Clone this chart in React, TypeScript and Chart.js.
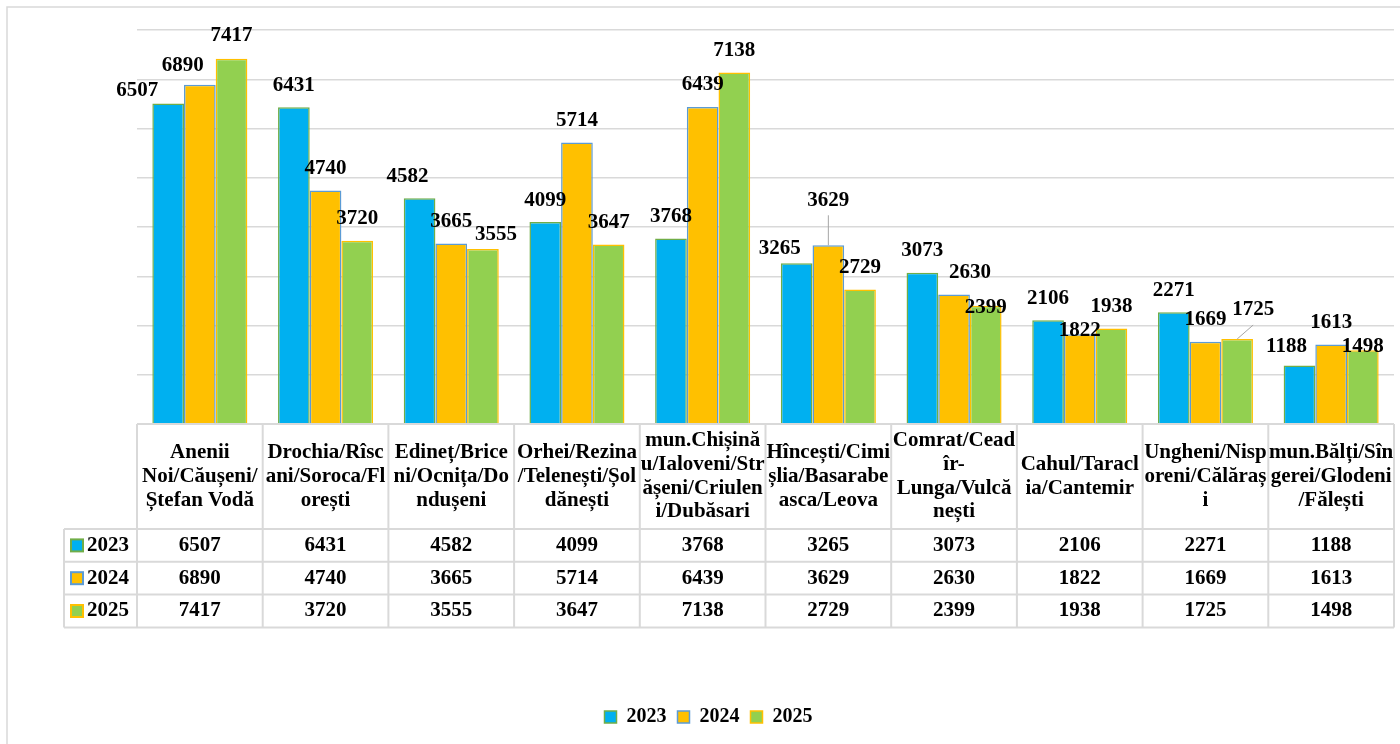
import React, { useEffect, useRef } from "react";
import { Chart, registerables } from "chart.js";

Chart.register(...registerables);

// ---------- data ----------
const categoryLines: string[][] = [
  ["Anenii", "Noi/Căușeni/", "Ștefan Vodă"],
  ["Drochia/Rîsc", "ani/Soroca/Fl", "orești"],
  ["Edineț/Brice", "ni/Ocnița/Do", "ndușeni"],
  ["Orhei/Rezina", "/Telenești/Șol", "dănești"],
  ["mun.Chișină", "u/Ialoveni/Str", "ășeni/Criulen", "i/Dubăsari"],
  ["Hîncești/Cimi", "șlia/Basarabe", "asca/Leova"],
  ["Comrat/Cead", "îr-", "Lunga/Vulcă", "nești"],
  ["Cahul/Taracl", "ia/Cantemir"],
  ["Ungheni/Nisp", "oreni/Călăraș", "i"],
  ["mun.Bălți/Sîn", "gerei/Glodeni", "/Fălești"],
];

const seriesNames = ["2023", "2024", "2025"];
const values2023 = [6507, 6431, 4582, 4099, 3768, 3265, 3073, 2106, 2271, 1188];
const values2024 = [6890, 4740, 3665, 5714, 6439, 3629, 2630, 1822, 1669, 1613];
const values2025 = [7417, 3720, 3555, 3647, 7138, 2729, 2399, 1938, 1725, 1498];

const yMax = 8000;
const yStep = 1000;

// ---------- styles ----------
const fillColors = ["#00B0F0", "#FFC000", "#92D050"];
const borderColors = ["#70AD47", "#5B9BD5", "#FFC000"];
const FONT = '"Liberation Serif", "Times New Roman", serif';
const LINE = "#D9D9D9";

// label nudges in px (dx, dy) relative to the default spot above each bar
const nudge2023 = [[-31, 9], [0, 0], [-12, 0], [0, 0], [0, 0], [-17, 7], [0, 0], [0, 0], [0, 0], [-13, 3]];
const nudge2024 = [[-17, 3], [0, 0], [0, 0], [0, 0], [0, 0], [0, -23], [16, 0], [0, 18], [0, 0], [0, 0]];
const nudge2025 = [[0, -1], [0, 0], [13, 8], [0, 0], [0, 0], [0, 0], [0, 24], [0, 0], [16, -7], [0, 18]];
const nudges = [nudge2023, nudge2024, nudge2025];
const leaderLines: number[][] = [[], [5], [8]];

const PAD_LEFT = 23;
const PAD_RIGHT = 6;
const PAD_TOP = 30;
const PAD_BOTTOM = 7;
const AREA_BOTTOM = 424;
const HEADER_H = 105;
const ROW_H = 32.8;
const KEY_W = 73;

const excelPlugin = {
  id: "excelTable",
  beforeDraw(chart: any) {
    const ctx = chart.ctx;
    ctx.save();
    ctx.fillStyle = "#ffffff";
    ctx.fillRect(0, 0, chart.width, chart.height);
    ctx.strokeStyle = LINE;
    ctx.lineWidth = 1.5;
    ctx.strokeRect(7, 7, chart.width + 20, chart.height + 20);
    ctx.restore();
  },
  afterDatasetsDraw(chart: any) {
    const ctx = chart.ctx;
    ctx.save();
    ctx.font = `bold 21px ${FONT}`;
    ctx.textAlign = "center";
    ctx.textBaseline = "middle";
    chart.data.datasets.forEach((ds: any, di: number) => {
      const meta = chart.getDatasetMeta(di);
      meta.data.forEach((el: any, i: number) => {
        const [dx, dy] = nudges[di][i];
        const lx = el.x + dx;
        const ly = el.y - 22 + dy;
        if (leaderLines[di].includes(i)) {
          ctx.strokeStyle = "#A6A6A6";
          ctx.lineWidth = 1;
          ctx.beginPath();
          ctx.moveTo(el.x, el.y);
          ctx.lineTo(lx, ly + 15);
          ctx.stroke();
        }
        ctx.fillStyle = "#000000";
        ctx.fillText(String(ds.data[i]), lx, ly);
      });
    });
    ctx.restore();
  },
  afterDraw(chart: any) {
    const ctx = chart.ctx;
    const area = chart.chartArea;
    const labels = chart.data.labels as string[][];
    const n = labels.length;
    const left = area.left;
    const right = area.right;
    const top = area.bottom;
    const colW = (right - left) / n;
    const keyLeft = left - KEY_W;
    const headBottom = top + HEADER_H;
    const bottom = headBottom + ROW_H * 3;

    ctx.save();
    ctx.strokeStyle = LINE;
    ctx.lineWidth = 2;
    ctx.beginPath();
    ctx.moveTo(left, top);
    ctx.lineTo(right, top);
    for (let r = 0; r <= 3; r++) {
      const y = headBottom + r * ROW_H;
      ctx.moveTo(keyLeft, y);
      ctx.lineTo(right, y);
    }
    for (let c = 0; c <= n; c++) {
      const x = left + c * colW;
      ctx.moveTo(x, top);
      ctx.lineTo(x, bottom);
    }
    ctx.moveTo(keyLeft, headBottom);
    ctx.lineTo(keyLeft, bottom);
    ctx.stroke();

    ctx.fillStyle = "#000000";
    ctx.font = `bold 21px ${FONT}`;
    ctx.textAlign = "center";
    ctx.textBaseline = "middle";
    const lh = 23.7;
    labels.forEach((lines, c) => {
      const cx = left + (c + 0.5) * colW;
      const cy = top + HEADER_H / 2;
      const y0 = cy - ((lines.length - 1) * lh) / 2;
      lines.forEach((t, k) => ctx.fillText(t, cx, y0 + k * lh));
    });

    chart.data.datasets.forEach((ds: any, di: number) => {
      const cy = headBottom + (di + 0.5) * ROW_H;
      ctx.textAlign = "center";
      ds.data.forEach((v: number, c: number) => {
        ctx.fillText(String(v), left + (c + 0.5) * colW, cy);
      });
      // key swatch
      const bx = keyLeft + 7;
      const by = cy - 6;
      ctx.fillStyle = ds.backgroundColor;
      ctx.fillRect(bx, by, 12, 12);
      ctx.strokeStyle = ds.borderColor;
      ctx.lineWidth = 2;
      ctx.strokeRect(bx, by, 12, 12);
      ctx.fillStyle = "#000000";
      ctx.textAlign = "left";
      ctx.fillText(ds.label, keyLeft + 23, cy);
    });
    ctx.restore();
  },
};

export default function App() {
  const canvasRef = useRef<HTMLCanvasElement | null>(null);

  useEffect(() => {
    const canvas = canvasRef.current;
    if (!canvas) return;
    const seriesValues = [values2023, values2024, values2025];
    const chart = new Chart(canvas, {
      type: "bar",
      data: {
        labels: categoryLines,
        datasets: seriesNames.map((name, i) => ({
          label: name,
          data: seriesValues[i],
          backgroundColor: fillColors[i],
          borderColor: borderColors[i],
          borderWidth: 1.5,
          categoryPercentage: 0.756,
          barPercentage: 1,
        })),
      },
      options: {
        responsive: false,
        animation: false,
        devicePixelRatio: 1,
        layout: { padding: { left: PAD_LEFT, right: PAD_RIGHT, top: PAD_TOP, bottom: PAD_BOTTOM } },
        scales: {
          x: {
            display: true,
            ticks: { display: false },
            grid: { display: false, drawTicks: false },
            border: { display: false },
            afterFit: (scale: any) => {
              const lg = scale.chart.legend;
              const lh = lg && lg.height ? lg.height : 0;
              scale.height = Math.max(0, scale.chart.height - PAD_BOTTOM - lh - AREA_BOTTOM);
            },
          },
          y: {
            min: 0,
            max: yMax,
            ticks: { display: false, stepSize: yStep },
            grid: { color: LINE, lineWidth: 1.5, drawTicks: false },
            border: { display: false },
            afterFit: (scale: any) => {
              scale.width = 137 - PAD_LEFT;
            },
          },
        },
        plugins: {
          legend: {
            display: true,
            position: "bottom",
            labels: {
              font: { family: FONT, size: 20, weight: "bold" },
              color: "#000000",
              boxWidth: 12,
              boxHeight: 12,
              padding: 11,
            },
          },
          tooltip: { enabled: false },
        },
      },
      plugins: [excelPlugin],
    });
    return () => chart.destroy();
  }, []);

  return (
    <div style={{ position: "fixed", left: 0, top: 0, width: 1400, height: 744, background: "#fff" }}>
      <canvas ref={canvasRef} width={1400} height={744} />
    </div>
  );
}
